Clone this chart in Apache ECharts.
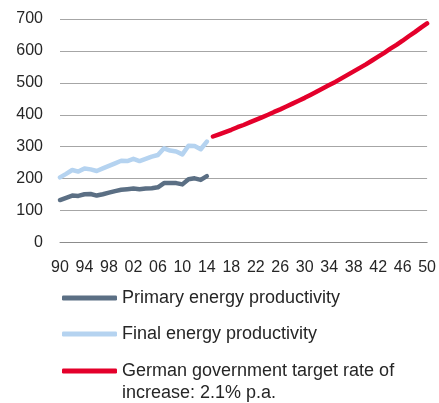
<!DOCTYPE html>
<html>
<head>
<meta charset="utf-8">
<script src="https://cdn.jsdelivr.net/npm/echarts@6/dist/echarts.min.js"></script>
<style>
  html, body { margin: 0; padding: 0; background: #fff; }
  #main { width: 439px; height: 403px; }
</style>
</head>
<body>
<div id="main"></div>
<script>
var chartDom = document.getElementById('main');
var myChart = echarts.init(chartDom);
var option;

// years 1990 - 2050
var years = [];
for (var y = 1990; y <= 2050; y++) years.push(String(y));

var primary = [133, 140, 147, 146, 151, 152, 147, 151, 156, 161, 165, 167, 169, 167, 169, 170, 173, 186, 186, 186, 182, 198, 201, 196, 208];
var finalEnergy = [204, 215, 227, 222, 232, 229, 224, 232, 240, 248, 256, 255, 262, 255, 262, 269, 274, 295, 288, 285, 276, 303, 302, 292, 316];
// 2015 - 2050
var target = [332, 339, 346, 353, 361, 368, 376, 384, 392, 400, 409, 417, 426, 435, 444, 453, 463, 473, 483, 493, 503, 514, 525, 536, 547, 558, 570, 582, 594, 607, 619, 632, 646, 659, 673, 686];

var names = ['Primary energy productivity', 'Final energy productivity', 'German government target rate of increase: 2.1% p.a.'];
var colors = ['#5b6f84', '#b5d3f0', '#e4002b'];

var pad = function (arr, before) {
  var out = [];
  for (var i = 0; i < before; i++) out.push(null);
  return out.concat(arr);
};

var font = 'Liberation Sans, Arial, sans-serif';

// one legend per row so the wrapped third entry lines up like the original
function legendFor(i, top, extra) {
  return Object.assign({
    data: [names[i]],
    left: 57,
    top: top,
    icon: 'roundRect',
    itemWidth: 55,
    itemHeight: 5,
    selectedMode: false,
    textStyle: { fontSize: 18, color: '#262626', fontFamily: font }
  }, extra || {});
}

myChart.setOption(option = {
  animation: false,
  color: colors,
  grid: { left: 60, right: 11, top: 19, bottom: 160.5 },
  legend: [
    legendFor(0, 284),
    legendFor(1, 320),
    legendFor(2, 357, {
      formatter: function () { return 'German government target rate of'; }
    })
  ],
  graphic: [{
    type: 'text',
    left: 122,
    top: 384,
    style: { text: 'increase: 2.1% p.a.', fontSize: 18, fill: '#262626', fontFamily: font }
  }],
  xAxis: {
    type: 'category',
    data: years,
    boundaryGap: false,
    axisLine: { lineStyle: { color: '#8c8c8c', width: 1 } },
    axisTick: { show: false },
    axisLabel: {
      interval: 3,
      margin: 17,
      fontSize: 16,
      color: '#262626',
      fontFamily: font,
      formatter: function (v) { return v.slice(2); }
    },
    splitLine: { show: false }
  },
  yAxis: {
    type: 'value',
    min: 0,
    max: 700,
    interval: 100,
    axisLine: { show: false },
    axisTick: { show: false },
    axisLabel: { margin: 17, fontSize: 16, color: '#262626', fontFamily: font },
    splitLine: { lineStyle: { color: '#a6a6a6', width: 1 } }
  },
  series: [
    {
      name: names[0],
      type: 'line',
      data: primary,
      symbol: 'none',
      lineStyle: { width: 4.5, color: colors[0], cap: 'round', join: 'round' }
    },
    {
      name: names[1],
      type: 'line',
      data: finalEnergy,
      symbol: 'none',
      lineStyle: { width: 4.5, color: colors[1], cap: 'round', join: 'round' }
    },
    {
      name: names[2],
      type: 'line',
      data: pad(target, 25),
      symbol: 'none',
      lineStyle: { width: 4.5, color: colors[2], cap: 'round', join: 'round' }
    }
  ]
});

option && myChart.setOption(option);
</script>
</body>
</html>
